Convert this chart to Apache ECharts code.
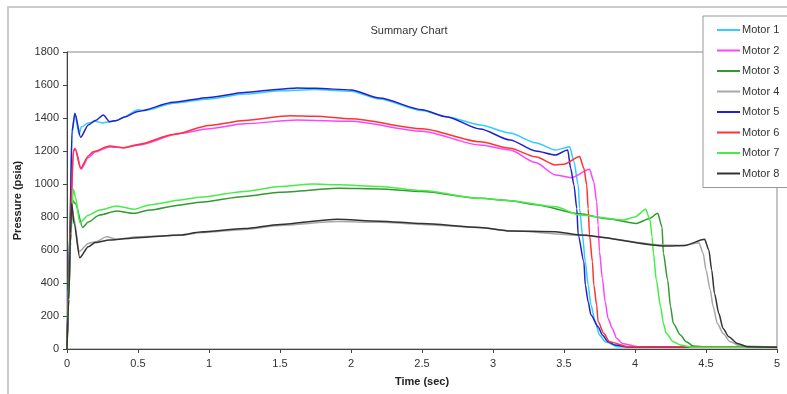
<!DOCTYPE html>
<html>
<head>
<meta charset="utf-8">
<script src="https://cdn.jsdelivr.net/npm/echarts@6/dist/echarts.min.js"></script>
<style>
  html, body { margin: 0; padding: 0; background: #fff; }
  #chart { width: 787px; height: 394px; }
</style>
</head>
<body>
<div id="chart"></div>
<script>
// values (time in sec, pressure in psia)
const motorNames = ['Motor 1', 'Motor 2', 'Motor 3', 'Motor 4', 'Motor 5', 'Motor 6', 'Motor 7', 'Motor 8'];
const motorColors = ['#33ccff', '#ff44ff', '#339933', '#a8a8a8', '#2222cc', '#ff3333', '#44ee44', '#333333'];

const m1Time = [0, 0.01, 0.02, 0.035, 0.055, 0.085, 0.1, 0.15, 0.2, 0.25, 0.3, 0.35, 0.4, 0.5, 0.55, 0.75, 1.0, 1.25, 1.5, 1.75, 2.0, 2.2, 2.5, 2.67, 2.91, 3.12, 3.3, 3.44, 3.54, 3.57, 3.6, 3.61, 3.63, 3.65, 3.67, 3.69, 3.72, 3.75, 3.79, 3.88, 4.0, 5.0];
const m1Pres = [0, 400, 720, 1300, 1430, 1300, 1345, 1370, 1380, 1370, 1378, 1385, 1405, 1450, 1445, 1490, 1515, 1545, 1565, 1572, 1562, 1515, 1445, 1408, 1358, 1309, 1250, 1206, 1226, 1135, 994, 852, 691, 529, 388, 267, 166, 85, 44, 14, 10, 10];

const m2Time = [0, 0.012, 0.025, 0.045, 0.06, 0.1, 0.15, 0.2, 0.3, 0.4, 0.5, 0.8, 1.0, 1.25, 1.62, 2.0, 2.5, 2.91, 3.12, 3.3, 3.44, 3.55, 3.68, 3.71, 3.73, 3.74, 3.75, 3.77, 3.79, 3.81, 3.84, 3.87, 3.91, 4.02, 5.0];
const m2Pres = [0, 350, 800, 1200, 1210, 1090, 1160, 1195, 1225, 1220, 1235, 1307, 1335, 1365, 1388, 1380, 1320, 1236, 1206, 1130, 1055, 1038, 1089, 1014, 893, 752, 590, 428, 287, 186, 125, 65, 34, 14, 10];

const m3Time = [0, 0.012, 0.025, 0.04, 0.06, 0.11, 0.15, 0.23, 0.35, 0.47, 0.58, 0.8, 0.94, 1.25, 1.5, 1.92, 2.2, 2.5, 2.91, 3.12, 3.3, 3.61, 3.8, 4.01, 4.1, 4.16, 4.19, 4.2, 4.23, 4.25, 4.27, 4.32, 4.36, 4.41, 4.55, 5.0];
const m3Pres = [0, 300, 650, 900, 880, 737, 770, 812, 836, 822, 842, 873, 890, 925, 950, 974, 970, 955, 913, 899, 875, 820, 790, 761, 790, 822, 741, 580, 418, 257, 155, 85, 44, 18, 10, 10];

const m4Time = [0, 0.012, 0.025, 0.035, 0.05, 0.085, 0.15, 0.2, 0.28, 0.35, 0.5, 0.8, 0.94, 1.25, 1.5, 1.9, 2.2, 2.5, 2.91, 3.12, 3.61, 4.2, 4.35, 4.45, 4.48, 4.5, 4.53, 4.55, 4.58, 4.62, 4.67, 4.74, 5.0];
const m4Pres = [0, 300, 650, 850, 790, 590, 640, 650, 680, 665, 680, 690, 705, 725, 748, 772, 768, 755, 735, 717, 690, 630, 628, 644, 580, 479, 358, 257, 155, 95, 44, 18, 10];

const m5Time = [0, 0.01, 0.02, 0.035, 0.056, 0.096, 0.15, 0.2, 0.256, 0.3, 0.35, 0.4, 0.5, 0.75, 1.0, 1.25, 1.5, 1.62, 1.75, 2.0, 2.2, 2.5, 2.67, 2.91, 3.12, 3.3, 3.44, 3.526, 3.547, 3.57, 3.59, 3.6, 3.64, 3.65, 3.67, 3.69, 3.74, 3.77, 3.81, 3.86, 3.95, 5.0];
const m5Pres = [0, 350, 700, 1320, 1428, 1283, 1358, 1385, 1418, 1378, 1385, 1405, 1440, 1495, 1525, 1555, 1575, 1582, 1580, 1570, 1521, 1450, 1408, 1333, 1267, 1200, 1176, 1206, 1095, 994, 852, 691, 529, 388, 287, 206, 135, 85, 44, 24, 12, 10];

const m6Time = [0, 0.012, 0.025, 0.045, 0.056, 0.096, 0.15, 0.185, 0.3, 0.4, 0.5, 0.75, 1.0, 1.25, 1.57, 1.75, 2.0, 2.5, 2.91, 3.12, 3.3, 3.44, 3.5, 3.61, 3.64, 3.66, 3.67, 3.68, 3.7, 3.71, 3.73, 3.74, 3.78, 3.82, 3.95, 5.0];
const m6Pres = [0, 380, 820, 1200, 1216, 1095, 1170, 1196, 1230, 1220, 1240, 1300, 1355, 1385, 1414, 1410, 1395, 1335, 1256, 1216, 1165, 1115, 1120, 1166, 1095, 994, 852, 691, 529, 388, 267, 166, 95, 44, 14, 10];

const m7Time = [0, 0.012, 0.025, 0.045, 0.06, 0.09, 0.15, 0.23, 0.35, 0.47, 0.58, 0.8, 0.94, 1.25, 1.5, 1.73, 1.92, 2.2, 2.5, 2.91, 3.12, 3.44, 3.61, 3.92, 4.0, 4.075, 4.106, 4.12, 4.13, 4.15, 4.18, 4.2, 4.22, 4.27, 4.32, 4.41, 5.0];
const m7Pres = [0, 320, 700, 968, 920, 766, 810, 842, 867, 847, 873, 903, 920, 955, 985, 1000, 995, 985, 960, 913, 899, 862, 812, 782, 800, 847, 782, 681, 580, 418, 257, 155, 95, 44, 24, 10, 10];

const m8Time = [0, 0.012, 0.025, 0.033, 0.05, 0.09, 0.15, 0.2, 0.3, 0.5, 0.8, 0.94, 1.25, 1.5, 1.9, 2.2, 2.5, 2.91, 3.12, 3.44, 3.61, 4.22, 4.35, 4.49, 4.52, 4.54, 4.56, 4.59, 4.62, 4.66, 4.72, 4.79, 5.0];
const m8Pres = [0, 300, 700, 883, 760, 553, 620, 645, 660, 675, 691, 709, 730, 755, 786, 775, 760, 737, 715, 711, 691, 624, 628, 665, 600, 479, 337, 216, 125, 75, 34, 14, 10];

const xTicks = [0, 0.5, 1, 1.5, 2, 2.5, 3, 3.5, 4, 4.5, 5];
const yTicks = [0, 200, 400, 600, 800, 1000, 1200, 1400, 1600, 1800];

const motorTimes = [m1Time, m2Time, m3Time, m4Time, m5Time, m6Time, m7Time, m8Time];
const motorPres = [m1Pres, m2Pres, m3Pres, m4Pres, m5Pres, m6Pres, m7Pres, m8Pres];

const chart = echarts.init(document.getElementById('chart'), null, { renderer: 'canvas' });

const font = '"Liberation Sans", Arial, sans-serif';

let option = {
  animation: false,
  backgroundColor: '#fff',
  textStyle: { fontFamily: font },
  title: {
    text: 'Summary Chart',
    left: 404,
    top: 20,
    textAlign: 'center',
    textStyle: { fontSize: 11, fontWeight: 'normal', color: '#333', fontFamily: font }
  },
  graphic: [
    {
      type: 'rect',
      silent: true,
      z: -1,
      shape: { x: 8, y: 7, width: 820, height: 420 },
      style: { fill: 'none', stroke: '#cccccc', lineWidth: 2 }
    }
  ],
  legend: {
    orient: 'vertical',
    left: 703,
    top: 16,
    padding: [7, 30, 7, 14],
    itemWidth: 23,
    itemHeight: 2,
    itemGap: 6.5,
    icon: 'rect',
    backgroundColor: '#fff',
    borderColor: '#999',
    borderWidth: 1,
    textStyle: { fontSize: 11, color: '#333', fontFamily: font, lineHeight: 14, padding: [0, 0, 0, -3] },
    data: motorNames
  },
  grid: {
    left: 67,
    right: 10,
    top: 52,
    bottom: 45,
    show: true,
    borderColor: '#888',
    borderWidth: 1
  },
  xAxis: {
    type: 'value',
    min: 0,
    max: 5,
    interval: 0.5,
    name: 'Time (sec)',
    nameLocation: 'middle',
    nameGap: 27,
    nameTextStyle: { fontSize: 11, fontWeight: 'bold', color: '#222', fontFamily: font },
    axisLine: { show: true, onZero: false, lineStyle: { color: '#444' } },
    axisTick: { show: true, length: 4, lineStyle: { color: '#444' } },
    axisLabel: {
      fontSize: 11, color: '#333', margin: 9,
      formatter: v => xTicks.includes(v) ? String(v) : ''
    },
    splitLine: { show: false }
  },
  yAxis: {
    type: 'value',
    min: 0,
    max: 1800,
    interval: 200,
    name: 'Pressure (psia)',
    nameLocation: 'middle',
    nameGap: 42,
    nameTextStyle: { fontSize: 11, fontWeight: 'bold', color: '#222', fontFamily: font },
    axisLine: { show: true, lineStyle: { color: '#444' } },
    axisTick: { show: true, length: 4, lineStyle: { color: '#444' } },
    axisLabel: {
      fontSize: 11, color: '#333', margin: 8,
      formatter: v => yTicks.includes(v) ? String(v) : ''
    },
    splitLine: { show: false }
  },
  series: motorNames.map((name, i) => ({
    name: name,
    type: 'line',
    showSymbol: false,
    smooth: 0.25,
    smoothMonotone: 'x',
    color: motorColors[i],
    lineStyle: { width: 1.5, color: motorColors[i] },
    data: motorTimes[i].map((t, k) => [t, motorPres[i][k]])
  }))
};

chart.setOption(option);
</script>
</body>
</html>
